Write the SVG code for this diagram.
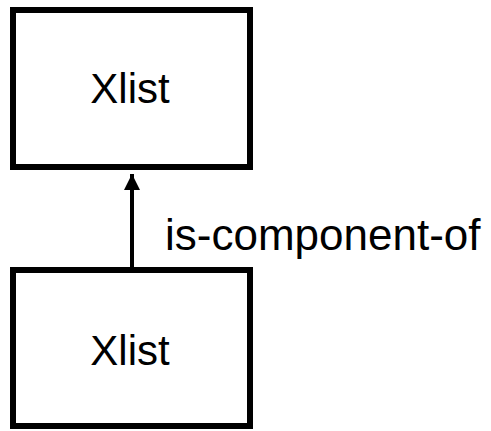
<svg xmlns="http://www.w3.org/2000/svg" width="491" height="431" viewBox="0 0 491 431">
  <style>
    .box { fill: #ffffff; stroke: #000000; stroke-width: 6; }
    .lbl { font-family: "Liberation Sans", Arial, sans-serif; fill: #000000; }
    .edge { stroke: #000000; stroke-width: 4; fill: none; }
  </style>
  <defs>
    <marker id="arrowhead" markerUnits="userSpaceOnUse" markerWidth="18" markerHeight="18" refX="16" refY="8" orient="auto">
      <path d="M0,0 L16,8 L0,16 Z" fill="#000000"/>
    </marker>
  </defs>
  <rect width="491" height="431" fill="#ffffff"/>
  <g id="connectors">
    <line class="edge" x1="132" y1="268" x2="132" y2="174" marker-end="url(#arrowhead)"/>
    <text class="lbl" x="165" y="250" font-size="44">is-component-of</text>
  </g>
  <g id="node-top">
    <rect class="box" x="13" y="10" width="237" height="157"/>
    <text class="lbl" x="130" y="103" font-size="42" text-anchor="middle">Xlist</text>
  </g>
  <g id="node-bottom">
    <rect class="box" x="13" y="270" width="237" height="156"/>
    <text class="lbl" x="130" y="365" font-size="42" text-anchor="middle">Xlist</text>
  </g>
</svg>
